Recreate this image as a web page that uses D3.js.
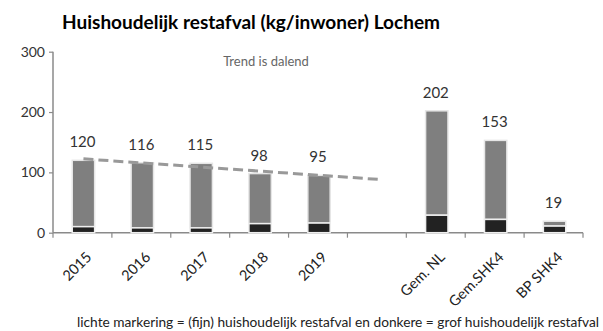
<!DOCTYPE html>
<html>
<head>
<meta charset="utf-8">
<script src="https://cdn.jsdelivr.net/npm/d3@7/dist/d3.min.js"></script>
<style>
  html, body { margin: 0; padding: 0; background: #fff; }
  svg { display: block; font-family: Lato, "Open Sans", sans-serif; }
</style>
</head>
<body>
<svg id="chart" width="603" height="331"></svg>
<script>
// Categories along the x axis (empty slot separates the years from the benchmarks)
const categories = ["2015", "2016", "2017", "2018", "2019", "", "Gem. NL", "Gem.SHK4", "BP SHK4"];
// Total household residual waste per inhabitant (kg)
const totals = [120, 116, 115, 98, 95, null, 202, 153, 19];
// Bulky (grof) part of the total (kg)
const grof = [10, 8, 8, 15, 16, null, 29, 22, 11];
// Y axis ticks
const yTicks = [0, 100, 200, 300];
// Years used for the trend line
const trendYears = ["2015", "2016", "2017", "2018", "2019"];

const svg = d3.select("#chart");

const x = d3.scaleBand().domain(categories).range([53, 583]).padding(0);
const y = d3.scaleLinear().domain([0, 300]).range([232.7, 51.7]);

const barW = x.bandwidth() * 0.38;
const cx = c => x(c) + x.bandwidth() / 2 + 1;

// Title
svg.append("text")
  .attr("x", 62).attr("y", 29)
  .attr("font-size", 18.5).attr("font-weight", "bold").attr("fill", "#000")
  .attr("textLength", 378).attr("lengthAdjust", "spacingAndGlyphs")
  .text("Huishoudelijk restafval (kg/inwoner) Lochem");

// Y axis
const yAxis = svg.append("g").attr("transform", "translate(53,0)")
  .call(d3.axisLeft(y).tickValues(yTicks).tickSize(4).tickPadding(4));
yAxis.select(".domain").attr("stroke", "#8a8a8a").attr("stroke-width", 1.5)
  .attr("d", `M0,${y(300)}V${y(0)}`);
yAxis.selectAll(".tick line").attr("stroke", "#8a8a8a").attr("stroke-width", 1.2);
yAxis.selectAll(".tick text").attr("font-size", 14).attr("fill", "#333")
  .attr("font-family", "Lato, 'Open Sans', sans-serif");

// X axis line and ticks at band boundaries
const xBounds = categories.map(c => x(c)).concat([x.range()[1]]);
svg.append("line")
  .attr("x1", 53).attr("x2", 583).attr("y1", y(0)).attr("y2", y(0))
  .attr("stroke", "#8a8a8a").attr("stroke-width", 1.5);
svg.selectAll(".xtick").data(xBounds).join("line")
  .attr("class", "xtick")
  .attr("x1", d => d).attr("x2", d => d)
  .attr("y1", y(0)).attr("y2", y(0) + 5)
  .attr("stroke", "#8a8a8a").attr("stroke-width", 1.2);

// Rotated category labels
svg.selectAll(".xlabel").data(categories.filter(c => c !== "")).join("text")
  .attr("class", "xlabel")
  .attr("transform", c => `translate(${cx(c) + 9},258) rotate(-45)`)
  .attr("text-anchor", "end")
  .attr("font-size", 14.5).attr("fill", "#222")
  .text(c => c);

// Stacked bars: dark = grof, light = fijn
const rows = categories.map((c, i) => ({ c, total: totals[i], grof: grof[i] }))
  .filter(d => d.total != null);

svg.selectAll(".fijn").data(rows).join("rect")
  .attr("class", "fijn")
  .attr("x", d => cx(d.c) - barW / 2)
  .attr("width", barW)
  .attr("y", d => y(d.total))
  .attr("height", d => y(d.grof) - y(d.total))
  .attr("fill", "#7f7f7f")
  .attr("stroke", "#e6e6e6").attr("stroke-width", 1.5);

svg.selectAll(".grof").data(rows).join("rect")
  .attr("class", "grof")
  .attr("x", d => cx(d.c) - barW / 2)
  .attr("width", barW)
  .attr("y", d => y(d.grof))
  .attr("height", d => y(0) - y(d.grof))
  .attr("fill", "#222")
  .attr("stroke", "#eeeeee").attr("stroke-width", 1.5);

// Value labels
svg.selectAll(".val").data(rows).join("text")
  .attr("class", "val")
  .attr("x", d => cx(d.c) - 1)
  .attr("y", d => y(d.total) - 13)
  .attr("text-anchor", "middle")
  .attr("font-size", 15).attr("fill", "#333")
  .text(d => d.total);

// Linear trend over the years, extended into the next slot
const pts = trendYears.map((c, i) => [i, totals[categories.indexOf(c)]]);
const mx = d3.mean(pts, p => p[0]), my = d3.mean(pts, p => p[1]);
const slope = d3.sum(pts, p => (p[0] - mx) * (p[1] - my)) / d3.sum(pts, p => (p[0] - mx) ** 2);
const icpt = my - slope * mx;
const trendEnd = categories.indexOf("");
const trendPts = [0, trendEnd].map(i => [cx(categories[i]), y(icpt + slope * i)]);

svg.append("path")
  .attr("d", d3.line()(trendPts))
  .attr("fill", "none")
  .attr("stroke", "#999").attr("stroke-width", 3)
  .attr("stroke-dasharray", "10,5");

svg.append("text")
  .attr("x", 266).attr("y", 66)
  .attr("text-anchor", "middle")
  .attr("font-size", 13).attr("fill", "#666")
  .text("Trend is dalend");

// Footnote
svg.append("text")
  .attr("x", 77).attr("y", 327)
  .attr("font-size", 12.5).attr("fill", "#222")
  .attr("textLength", 522).attr("lengthAdjust", "spacingAndGlyphs")
  .text("lichte markering = (fijn) huishoudelijk restafval en donkere = grof huishoudelijk restafval");
</script>
</body>
</html>
